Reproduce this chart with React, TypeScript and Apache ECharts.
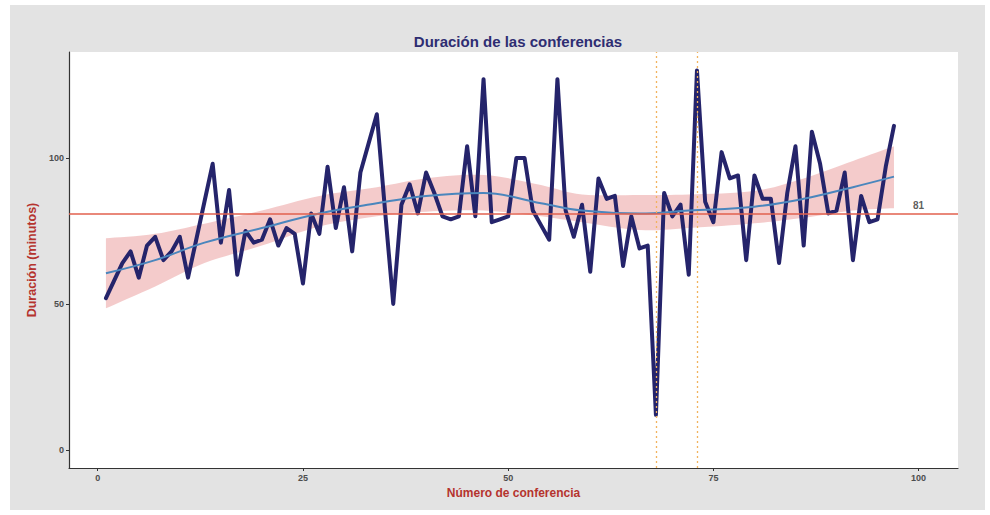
import React, { useEffect, useRef } from "react";
import * as echarts from "echarts";

// Conference durations (minutes), conferences 1..97
const conferenceNumbers = Array.from({ length: 97 }, (_, i) => i + 1);
const durations = [
  52, 58, 64, 68, 59, 70, 73, 65, 68, 73,
  59, 72, 85, 98, 71, 89, 60, 75, 71, 72,
  79, 70, 76, 74, 57, 81, 74, 97, 76, 90,
  68, 95, 105, 115, 82, 50, 84, 91, 81, 95,
  88, 80, 79, 80, 104, 80, 127, 78, 79, 80,
  100, 100, 82, 77, 72, 127, 82, 73, 84, 61,
  93, 86, 87, 63, 80, 69, 70, 12, 88, 80,
  84, 60, 130, 85, 78, 102, 93, 94, 65, 94,
  86, 86, 64, 88, 104, 70, 109, 98, 81, 82,
  95, 65, 87, 78, 79, 97, 111,
];

// Smoothed trend (loess)
const smoothX = [1, 7, 13, 20, 27, 34, 40, 47, 54, 59, 66, 72, 80, 86, 92, 97];
const smoothFit = [60.5, 65, 71, 76, 81, 84.5, 87, 88, 84.5, 82, 81, 82, 83.3, 86, 90, 93.6];
const smoothLower = [48.5, 56, 64, 70, 76.5, 80, 81.6, 82, 80, 78, 75.3, 76, 77.6, 79.5, 82, 82.8];
const smoothUpper = [72.5, 74, 77.5, 82, 87, 90, 93, 94.2, 90.7, 87.5, 87.3, 87.5, 88.7, 93, 99, 104];

const meanValue = 81;
const markedConferences = [68, 73];
const xTicks = [0, 25, 50, 75, 100];
const yTicks = [0, 50, 100];

// Catmull-Rom spline through pixel points (drawing helper only)
function spline(pts: number[][], steps = 8): number[][] {
  const out: number[][] = [];
  for (let i = 0; i < pts.length - 1; i++) {
    const p0 = pts[Math.max(0, i - 1)];
    const p1 = pts[i];
    const p2 = pts[i + 1];
    const p3 = pts[Math.min(pts.length - 1, i + 2)];
    for (let s = 0; s < steps; s++) {
      const t = s / steps;
      const t2 = t * t;
      const t3 = t2 * t;
      const f = (a: number, b: number, c: number, d: number) =>
        0.5 * (2 * b + (-a + c) * t + (2 * a - 5 * b + 4 * c - d) * t2 + (-a + 3 * b - 3 * c + d) * t3);
      out.push([f(p0[0], p1[0], p2[0], p3[0]), f(p0[1], p1[1], p2[1], p3[1])]);
    }
  }
  out.push(pts[pts.length - 1]);
  return out;
}

export default function App() {
  const ref = useRef<HTMLDivElement>(null);

  useEffect(() => {
    if (!ref.current) return;
    const chart = echarts.init(ref.current, undefined, { renderer: "svg" });
    const font = "'Liberation Sans', Arial, sans-serif";

    const mainData = conferenceNumbers.map((x, i) => [x, durations[i]]);
    const fitData = smoothX.map((x, i) => [x, smoothFit[i]]);

    chart.setOption({
      animation: false,
      backgroundColor: "#ffffff",
      textStyle: { fontFamily: font },
      graphic: [
        {
          type: "rect",
          z: -10,
          silent: true,
          shape: { x: 10, y: 5, width: 975, height: 505 },
          style: { fill: "#e3e3e3" },
        },
      ],
      title: {
        text: "Duración de las conferencias",
        left: 513,
        top: 29,
        textAlign: "center",
        textStyle: { color: "#2e2d72", fontSize: 15, fontWeight: "bold", fontFamily: font },
      },
      grid: {
        left: 69,
        right: 32,
        top: 52,
        bottom: 47,
        show: true,
        backgroundColor: "#ffffff",
        borderWidth: 0,
      },
      xAxis: {
        type: "value",
        min: -3.5,
        max: 104.8,
        name: "Número de conferencia",
        nameLocation: "middle",
        nameGap: 18,
        nameTextStyle: { color: "#b5332e", fontSize: 12, fontWeight: "bold", fontFamily: font },
        axisLine: { show: true, onZero: false, lineStyle: { color: "#333333", width: 1.2 } },
        axisTick: { show: true, length: 3, customValues: xTicks, lineStyle: { color: "#333333" } },
        axisLabel: { customValues: xTicks, color: "#4d4d4d", fontSize: 9, fontWeight: "bold", margin: 5, fontFamily: font },
        splitLine: { show: false },
      },
      yAxis: {
        type: "value",
        min: -6.2,
        max: 136.3,
        name: "Duración (minutos)",
        nameLocation: "middle",
        nameGap: 23,
        nameRotate: 90,
        nameTextStyle: { color: "#b5332e", fontSize: 12.5, fontWeight: "bold", fontFamily: font },
        axisLine: { show: true, onZero: false, lineStyle: { color: "#333333", width: 1.2 } },
        axisTick: { show: true, length: 3, customValues: yTicks, lineStyle: { color: "#333333" } },
        axisLabel: { customValues: yTicks, color: "#4d4d4d", fontSize: 9, fontWeight: "bold", margin: 5, fontFamily: font },
        splitLine: { show: false },
      },
      series: [
        {
          type: "custom",
          name: "banda",
          data: [0],
          z: 1,
          silent: true,
          clip: true,
          renderItem: (params: any, api: any) => {
            const upperPts = spline(smoothX.map((x, i) => api.coord([x, smoothUpper[i]])));
            const lowerPts = spline(smoothX.map((x, i) => api.coord([x, smoothLower[i]])));
            return {
              type: "polygon",
              shape: { points: upperPts.concat(lowerPts.slice().reverse()) },
              style: { fill: "rgba(225,117,117,0.38)", stroke: "none" },
            };
          },
        },
        {
          type: "line",
          name: "Duración",
          data: mainData,
          showSymbol: false,
          symbol: "none",
          lineStyle: { color: "#25246b", width: 4, join: "round", cap: "round" },
          z: 2,
        },
        {
          type: "line",
          name: "marcas",
          data: [],
          z: 3,
          markLine: {
            silent: true,
            symbol: "none",
            label: { show: false },
            lineStyle: { color: "#f2b35e", type: [2, 3], width: 1.3 },
            data: markedConferences.map((v) => ({ xAxis: v, lineStyle: { color: "#f2b35e" } })),
          },
        },
        {
          type: "line",
          name: "tendencia",
          data: fitData,
          smooth: 0.4,
          symbol: "none",
          lineStyle: { color: "#4a86bd", width: 2 },
          z: 4,
        },
        {
          type: "line",
          name: "media",
          data: [],
          z: 5,
          markLine: {
            silent: true,
            symbol: "none",
            label: { show: false },
            lineStyle: { color: "#e2604e", type: "solid", width: 1.5 },
            data: [{ yAxis: meanValue }],
          },
        },
        {
          type: "scatter",
          name: "etiqueta",
          data: [[100, meanValue]],
          symbolSize: 0,
          z: 6,
          label: {
            show: true,
            position: "top",
            distance: 3,
            formatter: String(meanValue),
            color: "#333333",
            fontSize: 10,
            fontWeight: "bold",
            fontFamily: font,
          },
        },
      ],
    });

    return () => chart.dispose();
  }, []);

  return (
    <div
      ref={ref}
      style={{ position: "absolute", left: 0, top: 0, width: 990, height: 515 }}
    />
  );
}
